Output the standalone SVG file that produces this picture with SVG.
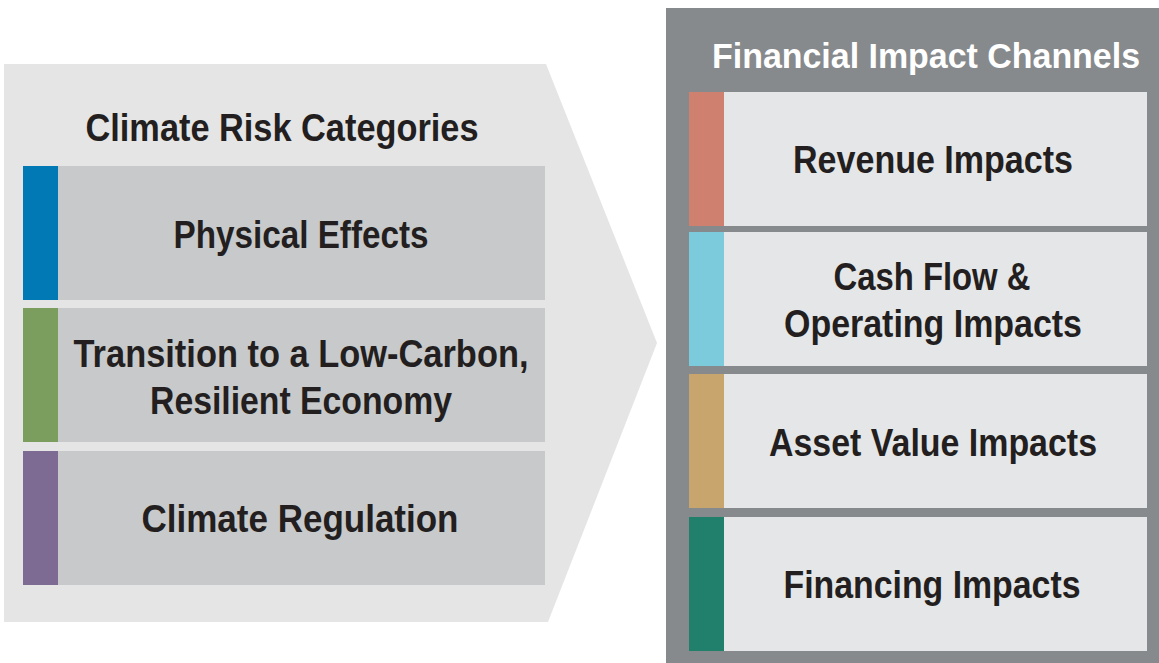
<svg xmlns="http://www.w3.org/2000/svg" width="1159" height="663" viewBox="0 0 1159 663">
  <style>
    .t { font-family: "Liberation Sans", Arial, sans-serif; font-weight: bold; font-size: 38px; fill: #231f20; text-anchor: middle; }
    .w { fill: #ffffff; font-size: 35px; }
    .lbox { fill: #c8c9cb; }
    .rbox { fill: #e5e6e8; }
  </style>
  <rect width="1159" height="663" fill="#ffffff"/>
  <g id="risk-panel">
    <polygon points="4,64 546,64 657,343 548,622 4,622" fill="#e5e5e6"/>
    <text class="t" x="282" y="141" textLength="393" lengthAdjust="spacingAndGlyphs">Climate Risk Categories</text>
  </g>
  <g id="physical-effects">
    <rect class="lbox" x="58" y="166" width="487" height="134"/>
    <rect x="23" y="166" width="35" height="134" fill="#0079b5"/>
    <text class="t" x="301" y="248" textLength="255" lengthAdjust="spacingAndGlyphs">Physical Effects</text>
  </g>
  <g id="transition">
    <rect class="lbox" x="58" y="308" width="487" height="134"/>
    <rect x="23" y="308" width="35" height="134" fill="#7b9d5e"/>
    <text class="t" x="301" y="367" textLength="455" lengthAdjust="spacingAndGlyphs">Transition to a Low-Carbon,</text>
    <text class="t" x="301" y="414" textLength="302" lengthAdjust="spacingAndGlyphs">Resilient Economy</text>
  </g>
  <g id="climate-regulation">
    <rect class="lbox" x="58" y="451" width="487" height="134"/>
    <rect x="23" y="451" width="35" height="134" fill="#7d6b94"/>
    <text class="t" x="300" y="532" textLength="317" lengthAdjust="spacingAndGlyphs">Climate Regulation</text>
  </g>
  <g id="channels-panel">
    <rect x="666" y="8" width="493" height="655" fill="#878a8d"/>
    <text class="t w" x="926" y="68" textLength="428" lengthAdjust="spacingAndGlyphs">Financial Impact Channels</text>
  </g>
  <g id="revenue-impacts">
    <rect class="rbox" x="724" y="92" width="423" height="134"/>
    <rect x="689" y="92" width="35" height="134" fill="#cf806e"/>
    <text class="t" x="933" y="173" textLength="280" lengthAdjust="spacingAndGlyphs">Revenue Impacts</text>
  </g>
  <g id="cash-flow-impacts">
    <rect class="rbox" x="724" y="232" width="423" height="134"/>
    <rect x="689" y="232" width="35" height="134" fill="#7ccbdd"/>
    <text class="t" x="932" y="290" textLength="197" lengthAdjust="spacingAndGlyphs">Cash Flow &amp;</text>
    <text class="t" x="933" y="337" textLength="298" lengthAdjust="spacingAndGlyphs">Operating Impacts</text>
  </g>
  <g id="asset-value-impacts">
    <rect class="rbox" x="724" y="374" width="423" height="134"/>
    <rect x="689" y="374" width="35" height="134" fill="#c9a56e"/>
    <text class="t" x="933" y="456" textLength="328" lengthAdjust="spacingAndGlyphs">Asset Value Impacts</text>
  </g>
  <g id="financing-impacts">
    <rect class="rbox" x="724" y="517" width="423" height="134"/>
    <rect x="689" y="517" width="35" height="134" fill="#21806b"/>
    <text class="t" x="932" y="598" textLength="297" lengthAdjust="spacingAndGlyphs">Financing Impacts</text>
  </g>
  <g id="connectors"></g>
</svg>
